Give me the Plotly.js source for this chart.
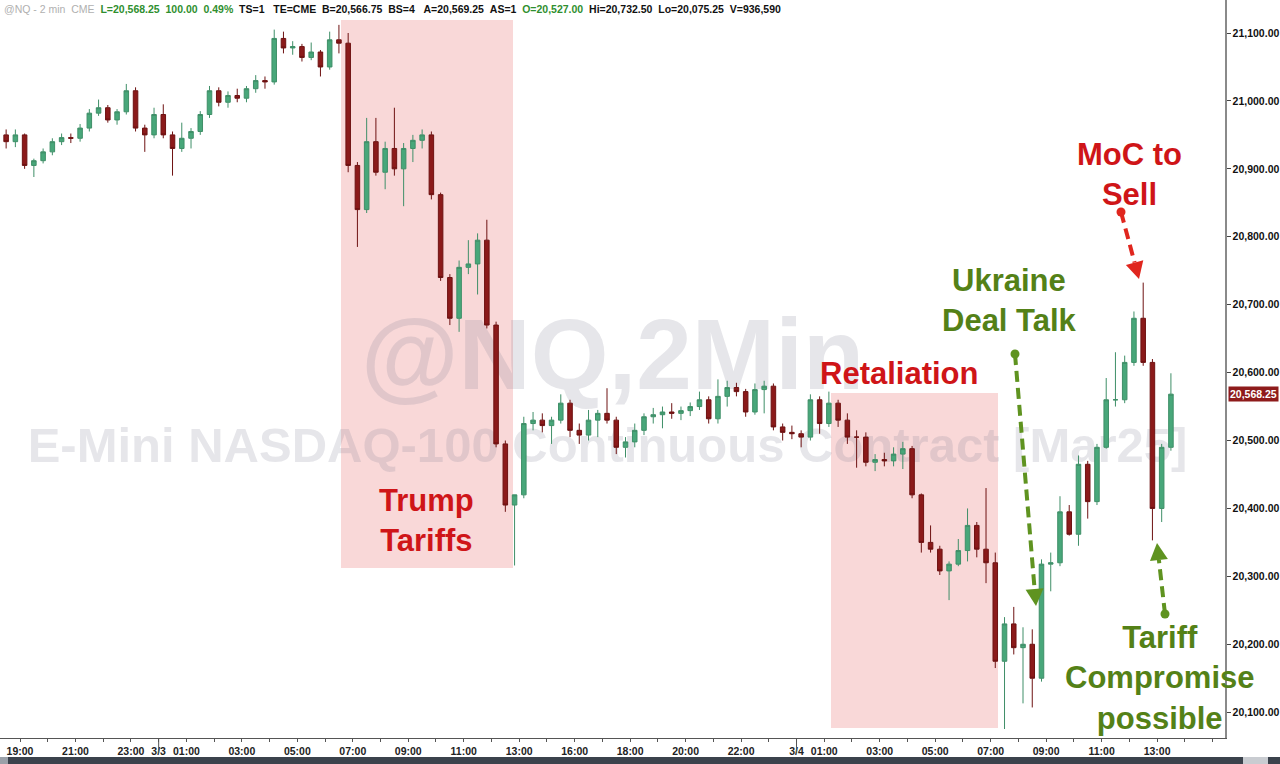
<!DOCTYPE html>
<html>
<head>
<meta charset="utf-8">
<script src="https://cdn.plot.ly/plotly-3.0.1.min.js"></script>
<style>html,body{margin:0;padding:0;background:#fff;}#chart{width:1280px;height:764px;}</style>
</head>
<body>
<div id="chart"></div>
<script>
// 20-minute bars (first bar 18:20 on 3/2), last bar 13:20 on 3/4
const opens = [20950,20940,20950,20905,20912,20925,20940,20946,20945,20960,20982,20990,20972,20984,21015,20960,20950,20980,20950,20930,
20945,20955,20980,21015,20998,21008,21004,21018,21030,21028,21092,21078,21080,21064,21072,21050,21090,21085,20905,20840,
20940,20895,20930,20900,20930,20942,20950,20862,20740,20680,20755,20760,20795,20670,20495,20405,20420,20525,20530,20522,
20530,20555,20515,20508,20530,20540,20530,20490,20498,20515,20535,20538,20542,20540,20544,20550,20560,20532,20565,20578,
20572,20542,20575,20580,20520,20512,20510,20505,20560,20525,20555,20530,20505,20505,20468,20472,20470,20480,20488,20420,
20350,20340,20308,20318,20338,20375,20340,20320,20175,20230,20195,20200,20150,20318,20320,20395,20362,20465,20410,20490,
20560,20560,20615,20680,20615,20400,20490];
const highs = [20958,20958,20952,20915,20930,20945,20952,20952,20966,20988,21002,20994,20988,21025,21020,20965,20990,20995,20955,20968,
20960,20985,21022,21020,21014,21018,21022,21038,21036,21105,21102,21088,21084,21086,21075,21102,21112,21100,20910,20975,
20975,20940,20990,20938,20950,20958,20955,20865,20745,20765,20795,20805,20825,20675,20500,20420,20535,20542,20540,20535,
20568,20560,20525,20545,20545,20577,20535,20505,20525,20540,20548,20550,20555,20550,20556,20572,20565,20590,20588,20585,
20576,20584,20588,20584,20525,20522,20515,20568,20565,20572,20560,20540,20515,20512,20480,20482,20490,20498,20492,20422,
20375,20345,20322,20355,20400,20380,20430,20335,20240,20255,20225,20222,20325,20335,20418,20405,20478,20470,20495,20592,
20630,20625,20690,20732.5,20620,20495,20599];
const lows = [20930,20932,20900,20888,20908,20920,20935,20938,20940,20955,20978,20968,20965,20980,20955,20925,20945,20945,20890,20925,
20930,20950,20975,20992,20990,20998,20998,21012,21018,21024,21070,21068,21058,21060,21036,21046,21070,20895,20785,20835,
20890,20870,20890,20845,20910,20930,20855,20735,20670,20660,20745,20715,20665,20490,20395,20316,20415,20515,20512,20495,
20525,20505,20495,20500,20505,20525,20480,20475,20490,20508,20525,20518,20532,20530,20536,20545,20525,20525,20550,20565,
20535,20538,20540,20515,20500,20502,20490,20500,20510,20520,20520,20495,20460,20462,20455,20462,20462,20458,20415,20335,
20335,20302,20265,20315,20322,20328,20290,20165,20075.25,20185,20113,20107,20145,20278,20315,20360,20345,20385,20405,20488,
20550,20555,20610,20610,20353,20380,20485];
const closes = [20940,20950,20905,20912,20925,20940,20946,20945,20960,20982,20990,20972,20984,21015,20960,20950,20980,20950,20930,20945,
20955,20980,21015,20998,21008,21004,21018,21030,21028,21092,21078,21080,21064,21072,21050,21090,21085,20905,20840,20940,
20895,20930,20900,20930,20942,20950,20862,20740,20680,20755,20760,20795,20670,20495,20405,20420,20525,20530,20522,20530,
20555,20515,20508,20530,20540,20530,20490,20498,20515,20535,20538,20542,20540,20544,20550,20560,20532,20565,20578,20572,
20542,20575,20580,20520,20512,20510,20505,20560,20525,20555,20530,20505,20505,20468,20472,20470,20480,20488,20420,20350,
20340,20308,20318,20338,20375,20340,20320,20175,20230,20195,20200,20150,20318,20320,20395,20362,20465,20410,20490,20560,
20560,20615,20680,20615,20400,20490,20568.25];

// axis labels (hours of trading time counted from 18:00 on 3/2, break 15:00-16:00 removed)
const tickLabels = ['19:00','21:00','23:00','3/3','01:00','03:00','05:00','07:00','09:00','11:00','13:00','16:00','18:00','20:00','22:00','3/4','01:00','03:00','05:00','07:00','09:00','11:00','13:00'];
const tickHours  = [1,3,5,6,7,9,11,13,15,17,19,21,23,25,27,29,30,32,34,36,38,40,42];
const priceTicks = [20100,20200,20300,20400,20500,20600,20700,20800,20900,21000,21100];
const lastPrice = 20568.25;

const xs = opens.map((_, i) => 0.5 + i / 3);

// plot area geometry in pixels (for annotation placement)
const PW = 1225, PH = 738;
const X = px => px / PW;
const Y = py => 1 - py / PH;

const shapes = [];
// shaded event zones
shapes.push({type:'rect', xref:'paper', yref:'paper', x0:X(341), x1:X(513), y0:Y(568), y1:Y(20), fillcolor:'#f9d8d8', line:{width:0}, layer:'below'});
shapes.push({type:'rect', xref:'paper', yref:'paper', x0:X(831), x1:X(998), y0:Y(728), y1:Y(393), fillcolor:'#f9d8d8', line:{width:0}, layer:'below'});
// watermarks
const wmColor = 'rgba(130,130,150,0.2)';
shapes.push({type:'rect', xref:'paper', yref:'paper', x0:X(330), x1:X(895), y0:Y(395), y1:Y(295), line:{width:0}, fillcolor:'rgba(0,0,0,0)', layer:'below',
  label:{text:'@NQ,2Min', textposition:'middle center', font:{family:'Liberation Sans, Arial', size:100, weight:'bold', color:wmColor}}});
shapes.push({type:'rect', xref:'paper', yref:'paper', x0:X(0), x1:X(1215), y0:Y(470), y1:Y(410), line:{width:0}, fillcolor:'rgba(0,0,0,0)', layer:'below',
  label:{text:'E-Mini NASDAQ-100 Continuous Contract [Mar25]', textposition:'middle center', font:{family:'Liberation Sans, Arial', size:49, weight:'bold', color:wmColor}}});

// date separator ticks
tickLabels.forEach((t, k) => {
  if (t.indexOf('/') >= 0) {
    shapes.push({type:'line', xref:'x', yref:'paper', x0:tickHours[k], x1:tickHours[k], y0:Y(738), y1:Y(753), line:{color:'#555', width:1}});
  }
});
// bottom dark band
shapes.push({type:'rect', xref:'paper', yref:'paper', x0:X(0), x1:X(1280), y0:Y(764), y1:Y(757), fillcolor:'#3b424c', line:{width:0}});
shapes.push({type:'rect', xref:'paper', yref:'paper', x0:X(0), x1:X(8), y0:Y(764), y1:Y(757), fillcolor:'#9aa0a8', line:{width:0}});
shapes.push({type:'rect', xref:'paper', yref:'paper', x0:X(1243), x1:X(1268), y0:Y(764), y1:Y(757), fillcolor:'#c9ccd1', line:{width:0}});

function arrow(x0, y0, x1, y1, color) {
  const dx = x1 - x0, dy = y1 - y0, len = Math.hypot(dx, dy), ux = dx / len, uy = dy / len;
  const hl = 17, hw = 9;
  const bx = x1 - ux * hl, by = y1 - uy * hl;
  shapes.push({type:'line', xref:'paper', yref:'paper', x0:X(x0), y0:Y(y0), x1:X(bx), y1:Y(by), line:{color:color, width:4, dash:'11px,6px'}});
  const lx = bx - uy * hw, ly = by + ux * hw, rx = bx + uy * hw, ry = by - ux * hw;
  shapes.push({type:'path', xref:'paper', yref:'paper', path:'M' + X(x1) + ',' + Y(y1) + ' L' + X(lx) + ',' + Y(ly) + ' L' + X(rx) + ',' + Y(ry) + ' Z', fillcolor:color, line:{width:0}});
  shapes.push({type:'circle', xref:'paper', yref:'paper', x0:X(x0 - 4.5), x1:X(x0 + 4.5), y0:Y(y0 + 4.5), y1:Y(y0 - 4.5), fillcolor:color, line:{width:0}});
}
const RED = '#cf1518', GREEN = '#548117';
arrow(1121, 212, 1139, 279, '#e0261e');
arrow(1015, 354, 1036, 606, '#5f9320');
arrow(1165, 614, 1157, 543, '#5f9320');

const annFont = (c) => ({family:'Liberation Sans, Arial', size:31, color:c, weight:'bold'});
const label = (x, y, text, c) => ({xref:'paper', yref:'paper', x:X(x), y:Y(y), xanchor:'center', yanchor:'middle', text:text, showarrow:false, font:annFont(c)});
const NB = '\u00a0\u00a0';
const header = '<span style="color:#b0b0b0">@NQ - 2 min' + NB + 'CME</span>' + NB +
  '<span style="color:#2f8f2f"><b>L=20,568.25' + NB + '100.00' + NB + '0.49%</b></span>' + NB +
  '<b>TS=1' + NB + '\u00a0TE=CME' + NB + 'B=20,566.75' + NB + 'BS=4' + NB + '\u00a0A=20,569.25' + NB + 'AS=1</b>' + NB +
  '<span style="color:#2f8f2f"><b>O=20,527.00</b></span>' + NB +
  '<b>Hi=20,732.50' + NB + 'Lo=20,075.25' + NB + 'V=936,590</b>';
const annotations = [
  label(426, 520, 'Trump<br>Tariffs', RED),
  label(899, 373, 'Retaliation', RED),
  label(1009, 301, 'Ukraine<br>Deal Talk', GREEN),
  label(1129, 174, 'MoC to<br>Sell', RED),
  label(1159, 678, 'Tariff<br>Compromise<br>possible', GREEN),
  {xref:'paper', yref:'paper', x:X(2), y:Y(9), xanchor:'left', yanchor:'middle', showarrow:false,
   font:{family:'Liberation Sans, Arial', size:10.5, color:'#111'}, text:header},
  {xref:'paper', yref:'y', x:X(1228), y:lastPrice, xanchor:'left', yanchor:'middle', showarrow:false,
   text:'<b>' + lastPrice.toLocaleString('en-US', {minimumFractionDigits:2}) + '</b>', bgcolor:'#8e1b1b', borderpad:1,
   font:{family:'Liberation Sans, Arial', size:10.5, color:'#fff'}}
];

const trace = {
  type:'candlestick', x:xs, open:opens, high:highs, low:lows, close:closes,
  increasing:{line:{color:'#3f8f68', width:1}, fillcolor:'#48a77a'},
  decreasing:{line:{color:'#6e1212', width:1}, fillcolor:'#8b1a1a'},
  whiskerwidth:0, hoverinfo:'skip', showlegend:false
};

const layout = {
  width:1280, height:764,
  margin:{l:0, r:55, t:0, b:26},
  paper_bgcolor:'#ffffff', plot_bgcolor:'#ffffff',
  showlegend:false,
  xaxis:{type:'linear', range:[0.279, 44.45], rangeslider:{visible:false},
    tickmode:'array', tickvals:tickHours, ticktext:tickLabels,
    ticks:'outside', ticklen:3, tickcolor:'#555', showgrid:false, zeroline:false,
    showline:true, linecolor:'#555', linewidth:1,
    minor:{ticks:'outside', ticklen:3, tickcolor:'#555', tickmode:'linear', tick0:0, dtick:1, showgrid:false},
    tickfont:{family:'Liberation Sans, Arial', size:10.5, color:'#222', weight:'bold'}},
  yaxis:{side:'right', range:[20062, 21148.6], tickmode:'array', tickvals:priceTicks, tickformat:',.2f',
    ticks:'outside', ticklen:4, tickcolor:'#444', showgrid:false, zeroline:false,
    showline:true, linecolor:'#8a8a8a', linewidth:1.5,
    tickfont:{family:'Liberation Sans, Arial', size:10.5, color:'#111', weight:'bold'}},
  shapes:shapes,
  annotations:annotations
};

Plotly.newPlot('chart', [trace], layout, {displayModeBar:false, staticPlot:true});
</script>
</body>
</html>
